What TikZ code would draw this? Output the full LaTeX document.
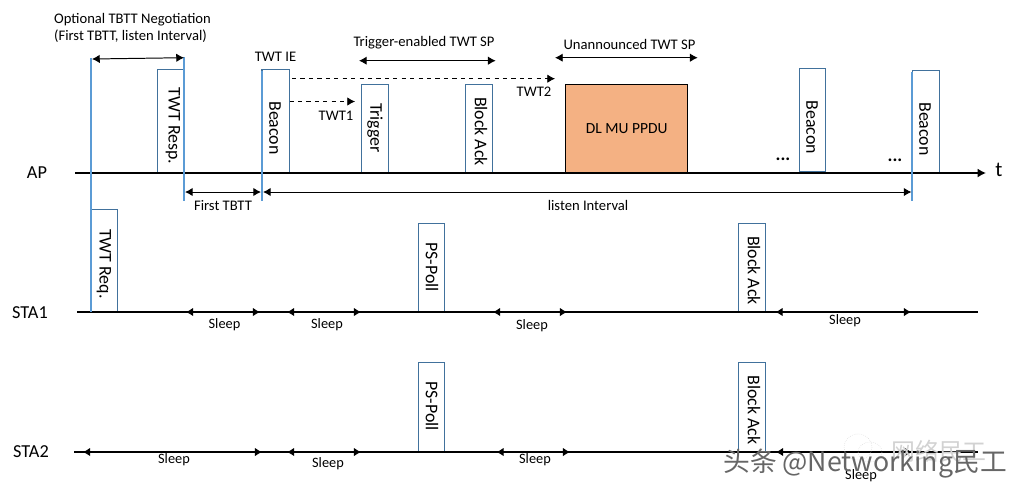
\documentclass[tikz,border=0pt]{standalone}
\usepackage{fontspec}
\setmainfont{Carlito}
\newfontfamily\cjkfont{Noto Sans CJK SC}
\usetikzlibrary{arrows,arrows.meta,shapes,positioning,calc}

\definecolor{boxline}{HTML}{41719C}
\definecolor{tbttline}{HTML}{5B9BD5}
\definecolor{ppdufill}{HTML}{F4B183}

\tikzset{
  timeline/.style={line width=1.5pt},
  tbtt/.style={line width=1.4pt, draw=tbttline},
  span/.style={{Latex[length=5.5pt,width=6pt]}-{Latex[length=5.5pt,width=6pt]}, line width=.7pt},
  sleepspan/.style={{Latex[length=5pt,width=6pt]}-{Latex[length=5pt,width=6pt]}, line width=.7pt},
  twtptr/.style={-{Latex[length=5.5pt,width=6pt]}, dashed, line width=.6pt},
  pkt/.style={draw=boxline, line width=.85pt, inner sep=0pt},
  pkttext/.style={rotate=-90, font=\fontsize{12.7}{13}\selectfont, inner sep=0pt},
  lab/.style={font=\fontsize{10.4}{12.3}\selectfont, align=left, inner sep=0pt},
  sleeplab/.style={font=\fontsize{10.2}{12}\selectfont, inner sep=0pt},
  station/.style={font=\fontsize{13}{14}\selectfont, inner sep=0pt}
}

\begin{document}
\begin{tikzpicture}[x=0.025cm,y=-0.025cm,align=center]
  \def \px {0.025cm}
  \useasboundingbox (0,0) rectangle (1023,495);

  %% time lines
  \coordinate (apstart) at (75,173);
  \coordinate (apend) at (986,173);
  \coordinate (staastart) at (77,312);
  \coordinate (staaend) at (978,312);
  \coordinate (stabstart) at (74,452);
  \coordinate (stabend) at (978,452);
  \node[station] (ap) at (37,173) {AP};
  \node[station] (staa) at (30,312.5) {STA1};
  \node[station] (stab) at (31,451.5) {STA2};
  \node[font=\fontsize{15}{15}\selectfont, inner sep=0pt] (t) at (999,170) {t};

  %% frames on the AP line
  \node[pkt, minimum width=26.5*\px, minimum height=103.5*\px] (twtresp) at (170.75,121.25) {};
  \node[pkt, minimum width=27.5*\px, minimum height=103.5*\px] (beacona) at (275.75,121.25) {};
  \node[pkt, minimum width=27*\px, minimum height=88.5*\px] (trigger) at (375.2,128.5) {};
  \node[pkt, minimum width=27.4*\px, minimum height=88.5*\px] (blockack) at (479,128.5) {};
  \node[pkt, draw=black, fill=ppdufill, minimum width=122*\px, minimum height=88*\px, font=\fontsize{11}{12}\selectfont] (ppdu) at (626.7,128.3) {DL MU PPDU};
  \node[pkt, minimum width=26.4*\px, minimum height=103.7*\px] (beaconb) at (812.5,120.2) {};
  \node[pkt, minimum width=27*\px, minimum height=102.7*\px] (beaconc) at (925.8,121.7) {};
  \node[lab, font=\bfseries\fontsize{13}{13}\selectfont] (dotsa) at (783,159.5) {...};
  \node[lab, font=\bfseries\fontsize{13}{13}\selectfont] (dotsb) at (895,160.5) {...};

  %% frames on the station lines
  \node[pkt, minimum width=26.7*\px, minimum height=102.7*\px] (twtreq) at (104.3,260.6) {};
  \node[pkt, minimum width=26.4*\px, minimum height=88.7*\px] (pspolla) at (431.5,267.6) {};
  \node[pkt, minimum width=27.4*\px, minimum height=88.7*\px] (acka) at (752,267.6) {};
  \node[pkt, minimum width=26.4*\px, minimum height=89.7*\px] (pspollb) at (431.5,407.2) {};
  \node[pkt, minimum width=27.4*\px, minimum height=89.7*\px] (ackb) at (752,407.2) {};

  \draw[timeline, -{Latex[length=6pt,width=6.5pt]}] (apstart) -- (apend);
  \draw[timeline] (staastart) -- (staaend);
  \draw[timeline] (stabstart) -- (stabend);

  \node[pkttext] (twtresptext) at (173,126) {TWT Resp.};
  \node[pkttext] (beaconatext) at (275,128) {Beacon};
  \node[pkttext] (triggertext) at (375,128) {Trigger};
  \node[pkttext] (blockacktext) at (481,131.5) {Block Ack};
  \node[pkttext] (beaconbtext) at (812,127.5) {Beacon};
  \node[pkttext] (beaconctext) at (925,129) {Beacon};
  \node[pkttext] (twtreqtext) at (104,264) {TWT Req.};
  \node[pkttext] (pspollatext) at (432,267) {PS-Poll};
  \node[pkttext] (ackatext) at (754,270.5) {Block Ack};
  \node[pkttext] (pspollbtext) at (432,406) {PS-Poll};
  \node[pkttext] (ackbtext) at (754,410) {Block Ack};

  %% blue markers
  \coordinate (markatop) at (91,58);
  \coordinate (markabot) at (91,312);
  \coordinate (markbtop) at (184,57);
  \coordinate (markbbot) at (184,201);
  \coordinate (markctop) at (262,71);
  \coordinate (markcbot) at (262,201);
  \coordinate (markdtop) at (912,72);
  \coordinate (markdbot) at (912,201);
  \draw[tbtt] (markatop) -- (markabot);
  \draw[tbtt] (markbtop) -- (markbbot);
  \draw[tbtt] (markctop) -- (markcbot);
  \draw[tbtt] (markdtop) -- (markdbot);

  %% spans above and below the AP line
  \coordinate (negl) at (92,59);
  \coordinate (negr) at (184,57.7);
  \coordinate (tbttl) at (185,192);
  \coordinate (tbttr) at (261,192);
  \coordinate (listenl) at (263,192);
  \coordinate (listenr) at (911.5,192);
  \coordinate (trigl) at (359,60.7);
  \coordinate (trigr) at (495.7,60.7);
  \coordinate (unanl) at (555,57.7);
  \coordinate (unanr) at (697.7,57.7);
  \draw[span] (negl) -- (negr);
  \draw[span] (tbttl) -- (tbttr);
  \draw[span] (listenl) -- (listenr);
  \draw[span] (trigl) -- (trigr);
  \draw[span] (unanl) -- (unanr);

  \coordinate (twtastart) at (289.5,101.5);
  \coordinate (twtaend) at (355,101.5);
  \coordinate (twtbstart) at (292,78.7);
  \coordinate (twtbend) at (555,78.7);
  \draw[twtptr] (twtastart) -- (twtaend);
  \draw[twtptr] (twtbstart) -- (twtbend);

  \node[lab] (negotiation) at (132.5,28) {Optional TBTT Negotiation\\(First TBTT, listen Interval)};
  \node[lab] (firsttbtt) at (223,205.5) {First TBTT};
  \node[lab] (listen) at (588,205) {listen Interval};
  \node[lab] (trigsp) at (424,43) {Trigger-enabled TWT SP};
  \node[lab] (unansp) at (629.5,44.5) {Unannounced TWT SP};
  \node[lab] (twtie) at (275.5,56.5) {TWT IE};
  \node[lab] (twta) at (336,115.5) {TWT1};
  \node[lab] (twtb) at (534,92) {TWT2};

  %% sleep periods of STA1
  \coordinate (saal) at (186,312);
  \coordinate (saar) at (260,312);
  \coordinate (sabl) at (287,312);
  \coordinate (sabr) at (361,312);
  \coordinate (sacl) at (493,312);
  \coordinate (sacr) at (567,312);
  \coordinate (sadl) at (775.5,312);
  \coordinate (sadr) at (911,312);
  \draw[sleepspan] (saal) -- (saar);
  \draw[sleepspan] (sabl) -- (sabr);
  \draw[sleepspan] (sacl) -- (sacr);
  \draw[sleepspan] (sadl) -- (sadr);
  \node[sleeplab] (saa) at (224.5,325) {Sleep};
  \node[sleeplab] (sab) at (327,325) {Sleep};
  \node[sleeplab] (sac) at (532,326) {Sleep};
  \node[sleeplab] (sad) at (845,321) {Sleep};

  %% sleep periods of STA2
  \coordinate (sbal) at (83,452);
  \coordinate (sbar) at (262,452);
  \coordinate (sbbl) at (287,452);
  \coordinate (sbbr) at (361,452);
  \coordinate (sbcl) at (496.5,452);
  \coordinate (sbcr) at (570,452);
  \coordinate (sbdl) at (776,452);
  \coordinate (sbdr) at (912,452);
  \draw[sleepspan] (sbal) -- (sbar);
  \draw[sleepspan] (sbbl) -- (sbbr);
  \draw[sleepspan] (sbcl) -- (sbcr);
  \draw[sleepspan] (sbdl) -- (sbdr);
  \node[sleeplab] (sba) at (174,460) {Sleep};
  \node[sleeplab] (sbb) at (328,464) {Sleep};
  \node[sleeplab] (sbc) at (535,460) {Sleep};
  \node[sleeplab] (sbd) at (861,476) {Sleep};

  %% overlay printed over the lower right corner
  \draw[gray!30, densely dotted] (858,447) ellipse (14 and 13);
  \draw[gray!30, densely dotted] (870,452) ellipse (12 and 10);
  \node[font=\cjkfont\fontsize{17}{17}\selectfont, text=gray!35, inner sep=0pt] (markfaint) at (939,451) {网络民工};
  \node[font=\cjkfont\fontsize{19}{19}\selectfont, text=black!60, inner sep=0pt] (markstrong) at (865,464) {头条 @Networking民工};
\end{tikzpicture}
\end{document}
